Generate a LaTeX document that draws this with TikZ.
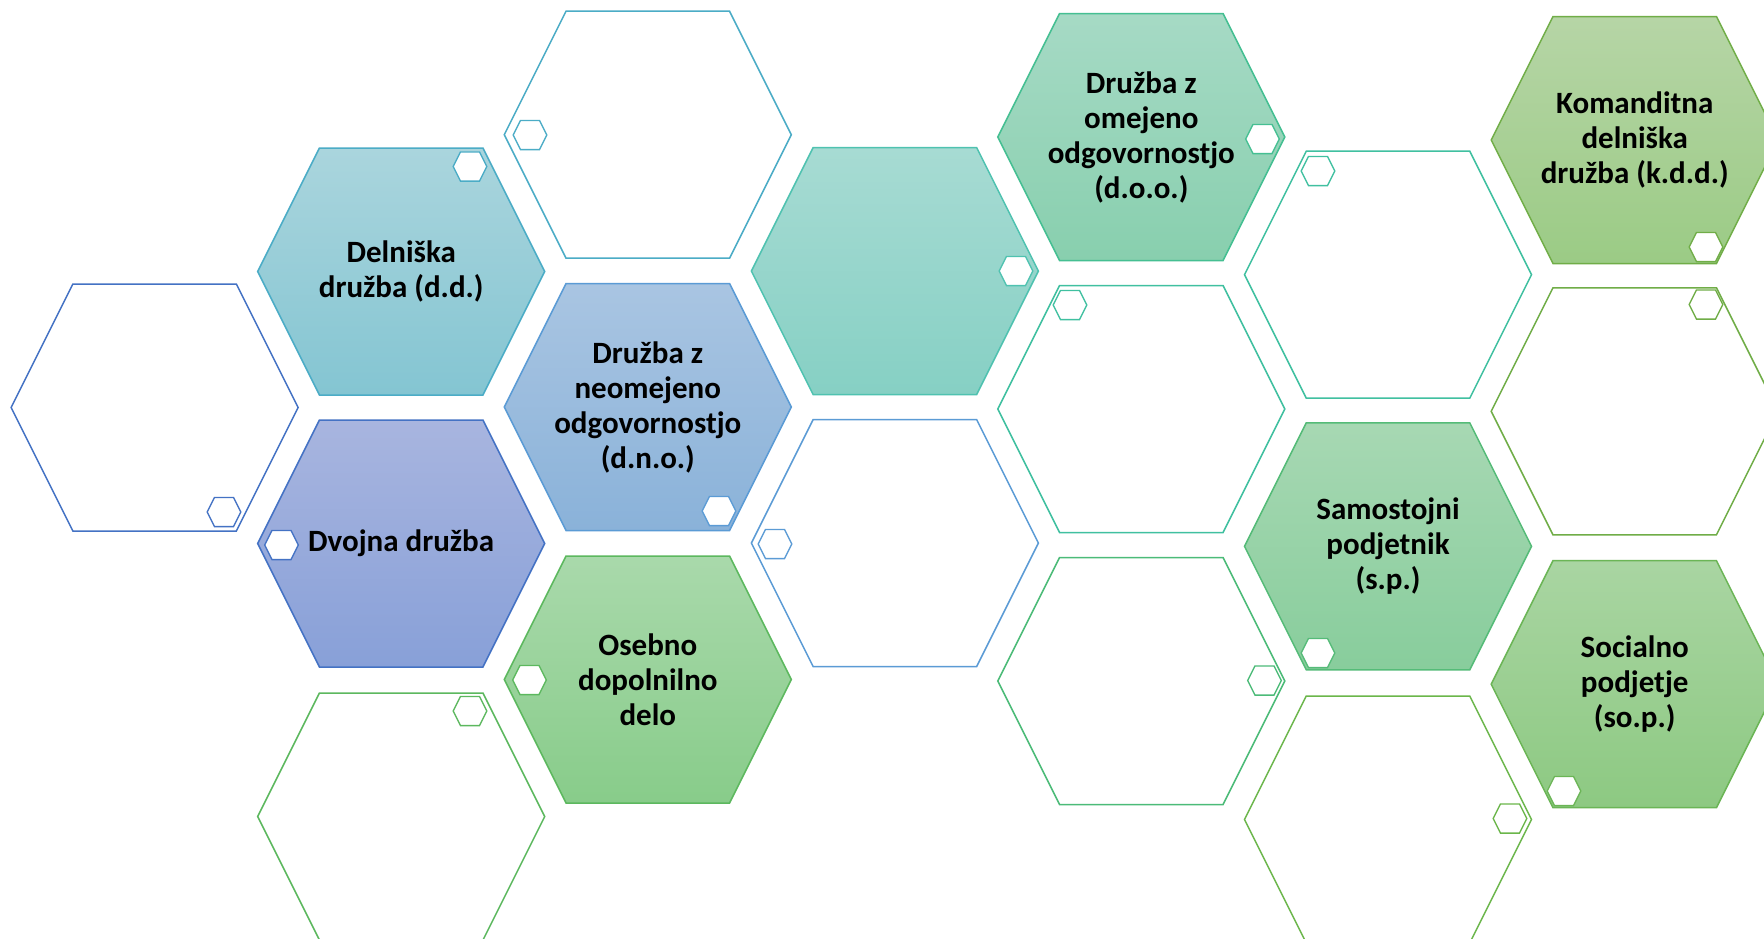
\documentclass[tikz,border=0pt]{standalone}
\usepackage{fontspec}
\setmainfont{Carlito}
\definecolor{cA}{HTML}{4472C4}
\definecolor{cTealBlue}{HTML}{4BACC6}
\definecolor{cSky}{HTML}{5B9BD5}
\definecolor{cGreen}{HTML}{5CB85E}
\definecolor{cTeal}{HTML}{4FC2B0}
\definecolor{cMint}{HTML}{45BF92}
\definecolor{cGreenB}{HTML}{55BB78}
\definecolor{cLeaf}{HTML}{70AD47}
\definecolor{cLeafB}{HTML}{6BB556}
\definecolor{cTealG}{HTML}{40C0A0}
\definecolor{cGrnE}{HTML}{4CBB78}
\definecolor{cGrnF}{HTML}{6BB64A}
\tikzset{
  lbl/.style={align=center, text=black, font=\fontsize{31}{35}\selectfont\bfseries, inner sep=0pt},
  bigline/.style={line width=1.5pt, line join=miter},
  smallhex/.style={line width=1.3pt, fill=white},
}
\newcommand\bighexat[3]{%
  \path[shift={(#1,#2)}, bigline, #3] (-143.5,0) -- (-81.75,-123.5) -- (81.75,-123.5) -- (143.5,0) -- (81.75,123.5) -- (-81.75,123.5) -- cycle;}
\newcommand\smallhexat[3]{%
  \path[shift={(#1,#2)}, smallhex, draw=#3] (-16.8,0) -- (-9.5,-14.6) -- (9.5,-14.6) -- (16.8,0) -- (9.5,14.6) -- (-9.5,14.6) -- cycle;}
\begin{document}
\begin{tikzpicture}[x=1pt, y=-1pt]
\useasboundingbox (0,0) rectangle (1764,938);
\clip (0,0) rectangle (1764,938);
\fill[white] (0,0) rectangle (1764,938);

% large hexagons
\bighexat{154.6}{407.5}{draw=cA}
\bighexat{401.2}{271.5}{draw=cTealBlue, top color={rgb,255:red,170;green,213;blue,221}, bottom color={rgb,255:red,132;green,197;blue,210}}
\bighexat{401.2}{543.5}{draw=cA, top color={rgb,255:red,168;green,181;blue,223}, bottom color={rgb,255:red,136;green,160;blue,216}}
\bighexat{401.2}{816.5}{draw=cGreen}
\bighexat{647.8}{134.7}{draw=cTealBlue}
\bighexat{647.8}{407}{draw=cSky, top color={rgb,255:red,169;green,197;blue,226}, bottom color={rgb,255:red,138;green,178;blue,217}}
\bighexat{647.8}{679.5}{draw=cGreen, top color={rgb,255:red,169;green,217;blue,171}, bottom color={rgb,255:red,136;green,204;blue,138}}
\bighexat{894.9}{271}{draw=cTeal, top color={rgb,255:red,167;green,219;blue,211}, bottom color={rgb,255:red,134;green,208;blue,196}}
\bighexat{894.9}{543}{draw=cSky}
\bighexat{1141.3}{137}{draw=cMint, top color={rgb,255:red,166;green,218;blue,197}, bottom color={rgb,255:red,136;green,207;blue,174}}
\bighexat{1141.3}{409}{draw=cTealG}
\bighexat{1141.3}{681}{draw=cGrnE}
\bighexat{1388}{274.7}{draw=cTealG}
\bighexat{1388}{546.3}{draw=cGreenB, top color={rgb,255:red,167;green,216;blue,179}, bottom color={rgb,255:red,136;green,205;blue,156}}
\bighexat{1388}{819.5}{draw=cGrnF}
\bighexat{1634.7}{140}{draw=cLeaf, top color={rgb,255:red,182;green,213;blue,166}, bottom color={rgb,255:red,155;green,203;blue,133}}
\bighexat{1634.7}{411.3}{draw=cLeaf}
\bighexat{1634.7}{684.2}{draw=cLeafB, top color={rgb,255:red,169;green,213;blue,162}, bottom color={rgb,255:red,141;green,201;blue,130}}

% small hexagons
\smallhexat{224}{512}{cA}
\smallhexat{470}{166.5}{cTealBlue}
\smallhexat{281.5}{545}{cA}
\smallhexat{470}{711}{cGreen}
\smallhexat{530}{135}{cTealBlue}
\smallhexat{719}{511}{cSky}
\smallhexat{529.5}{680}{cGreen}
\smallhexat{1016}{271}{cTeal}
\smallhexat{775}{544}{cSky}
\smallhexat{1262.5}{139}{cMint}
\smallhexat{1070}{305}{cTealG}
\smallhexat{1264.5}{680.5}{cGrnE}
\smallhexat{1318}{171}{cTealG}
\smallhexat{1318}{653}{cGreenB}
\smallhexat{1510}{818.5}{cGrnF}
\smallhexat{1706}{247}{cLeaf}
\smallhexat{1706}{304.5}{cLeaf}
\smallhexat{1564}{791}{cLeafB}

% labels
\node[lbl] (dd) at (401.2,271.5) {Delniška\\družba (d.d.)};
\node[lbl] (dvojna) at (401.2,543.5) {Dvojna družba};
\node[lbl] (dno) at (647.8,407) {Družba z\\neomejeno\\odgovornostjo\\(d.n.o.)};
\node[lbl] (odd) at (647.8,679.5) {Osebno\\dopolnilno\\delo};
\node[lbl] (doo) at (1141.3,137) {Družba z\\omejeno\\odgovornostjo\\(d.o.o.)};
\node[lbl] (sp) at (1388,546.3) {Samostojni\\podjetnik\\(s.p.)};
\node[lbl] (kdd) at (1634.7,140) {Komanditna\\delniška\\družba (k.d.d.)};
\node[lbl] (sop) at (1634.7,684.2) {Socialno\\podjetje\\(so.p.)};
\end{tikzpicture}
\end{document}
